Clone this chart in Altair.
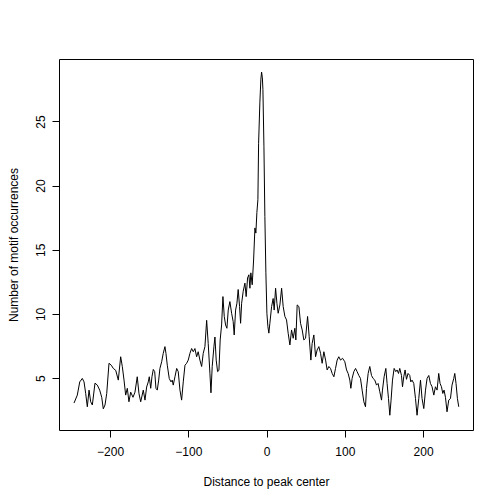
import altair as alt
import pandas as pd

# Distance to peak center (bp)
distance = [
    -246.1, -241.9, -238.8, -235.5, -233.3, -231.2, -229.1, -226.9, -224.8, -222.7,
    -219.3, -216.3, -213.3, -210.7, -208.7, -206.5, -204.3, -201.4, -198.5, -195.9,
    -192.8, -189.5, -186.5, -184.4, -182.2, -180.1, -178.0, -175.9, -173.7, -170.7,
    -168.2, -165.3, -163.1, -160.9, -157.6, -155.4, -153.3, -151.2, -149.9, -148.1,
    -146.5, -144.8, -143.0, -141.4, -139.7, -137.9, -136.3, -134.1, -132.1, -129.9,
    -128.6, -126.9, -124.4, -122.2, -120.6, -119.3, -117.1, -114.9, -112.9, -110.7,
    -108.6, -106.5, -104.3, -102.2, -100.1, -98.0, -95.8, -93.7, -91.6, -89.4,
    -87.4, -85.2, -83.0, -81.0, -78.8, -76.6, -74.6, -72.4, -71.1, -69.5,
    -67.3, -66.0, -64.4, -62.6, -60.9, -59.3, -57.5, -55.8, -54.1, -52.4,
    -50.7, -49.0, -46.9, -44.7, -42.7, -41.4, -39.6, -37.9, -36.3, -34.5,
    -33.2, -31.9, -29.9, -27.7, -26.1, -24.3, -22.6, -21.3, -20.1, -18.4,
    -16.6, -14.9, -13.7, -12.4, -11.1, -10.2, -8.6, -7.3, -6.4, -5.4,
    -4.7, -3.4, -2.2, -0.9, 0.4, 1.7, 2.9, 4.2, 6.4, 8.4,
    9.7, 11.5, 13.2, 14.8, 17.0, 19.2, 21.2, 23.4, 25.5, 27.6,
    29.8, 31.9, 34.0, 36.1, 37.4, 39.1, 41.3, 43.4, 45.5, 47.6,
    49.8, 52.4, 54.4, 56.6, 58.2, 60.4, 62.6, 64.6, 66.8, 69.0,
    71.0, 73.2, 75.4, 77.4, 79.6, 81.7, 83.8, 86.0, 88.1, 90.2,
    92.3, 94.5, 97.1, 100.0, 102.2, 104.2, 106.4, 107.7, 109.3, 111.5,
    113.7, 115.7, 117.9, 120.0, 122.1, 124.3, 126.4, 127.7, 129.8, 131.9,
    134.1, 136.1, 138.3, 140.5, 142.5, 144.7, 146.9, 148.1, 150.2, 152.4,
    154.0, 155.8, 157.5, 159.1, 160.9, 163.0, 165.1, 166.8, 168.6, 170.2,
    172.4, 173.7, 175.3, 177.0, 178.8, 180.8, 183.0, 184.3, 185.9, 188.1,
    190.3, 192.3, 194.5, 196.7, 198.7, 200.9, 203.1, 205.1, 207.3, 209.4,
    211.5, 213.7, 215.8, 217.9, 220.0, 221.7, 223.5, 225.2, 226.8, 228.6,
    230.6, 232.8, 235.0, 237.0, 239.2, 240.5, 242.1, 243.9, 245.6,
]

# Number of motif occurrences
occurrences = [
    3.05, 3.67, 4.70, 4.97, 4.70, 3.80, 2.76, 4.06, 3.15, 2.90,
    4.60, 4.45, 4.06, 3.50, 2.60, 2.90, 3.80, 6.15, 6.00, 5.75,
    5.60, 4.84, 6.66, 5.90, 4.84, 3.67, 4.20, 3.15, 3.90, 3.50,
    3.90, 5.10, 3.80, 3.15, 4.06, 3.28, 4.30, 4.70, 5.10, 4.20,
    5.10, 5.67, 5.50, 4.20, 4.06, 4.84, 5.75, 6.27, 6.92, 7.45,
    6.92, 6.00, 4.97, 4.70, 4.84, 4.45, 5.10, 5.75, 5.50, 4.06,
    3.28, 4.70, 6.00, 6.15, 6.40, 6.92, 7.30, 7.05, 7.30, 6.66,
    7.05, 6.40, 5.90, 6.92, 7.45, 9.50, 7.70, 5.36, 3.85, 5.90,
    7.45, 8.20, 6.40, 5.50, 5.60, 7.97, 9.14, 11.35, 9.80, 9.14,
    8.88, 10.30, 10.96, 10.05, 9.40, 8.36, 10.30, 10.83, 11.90, 10.57,
    9.27, 10.83, 11.76, 12.40, 11.35, 12.80, 13.05, 12.00, 13.20, 12.27,
    14.20, 16.70, 16.30, 17.90, 18.90, 23.30, 26.45, 28.30, 28.85, 28.40,
    27.50, 23.07, 17.60, 13.20, 10.05, 9.00, 8.50, 9.27, 10.57, 11.20,
    10.30, 12.00, 10.83, 10.05, 10.70, 12.00, 10.57, 9.80, 9.53, 8.49,
    7.58, 8.75, 8.10, 8.88, 7.97, 10.70, 10.57, 9.27, 8.75, 7.97,
    8.10, 9.80, 8.26, 6.40, 7.70, 8.36, 6.66, 7.19, 7.45, 6.92,
    6.15, 7.05, 6.40, 5.63, 5.90, 5.75, 5.36, 5.10, 5.75, 6.40,
    6.66, 6.40, 6.54, 6.27, 5.63, 5.36, 4.84, 4.20, 4.97, 5.50,
    5.75, 5.50, 5.20, 4.97, 4.06, 3.15, 2.76, 4.20, 5.36, 5.90,
    5.20, 4.97, 4.84, 4.45, 4.58, 3.93, 3.28, 4.06, 5.10, 5.75,
    4.58, 3.40, 2.10, 3.28, 4.84, 5.75, 5.50, 5.63, 5.36, 5.75,
    5.20, 4.32, 5.10, 5.63, 4.90, 5.36, 5.20, 4.70, 4.84, 4.58,
    3.40, 2.10, 3.40, 4.84, 3.40, 2.62, 4.06, 4.97, 5.20, 4.58,
    4.32, 3.67, 4.32, 4.06, 5.36, 4.58, 4.32, 3.80, 4.06, 3.50,
    2.37, 3.28, 3.40, 4.45, 4.97, 5.36, 4.58, 3.40, 2.76,
]

x_ticks = [-200, -100, 0, 100, 200]
y_ticks = [5, 10, 15, 20, 25]

df = pd.DataFrame({"distance": distance, "occurrences": occurrences})

FONT = "Liberation Sans"
W, H = 414, 371

chart = (
    alt.Chart(df)
    .mark_line(color="black", strokeWidth=1)
    .encode(
        x=alt.X(
            "distance:Q",
            scale=alt.Scale(domain=[-265.3, 263.8], nice=False, zero=False),
            axis=alt.Axis(
                values=x_ticks,
                title="Distance to peak center",
                domain=False,
                grid=False,
                ticks=True,
                tickSize=7,
                tickColor="black",
                tickWidth=1,
                labelFont=FONT,
                labelFontSize=12,
                labelColor="black",
                labelPadding=9,
                labelFlush=False,
                titleFont=FONT,
                titleFontSize=12,
                titleFontWeight="normal",
                titleColor="black",
                titleY=51,
                titleBaseline="middle",
            ),
        ),
        y=alt.Y(
            "occurrences:Q",
            scale=alt.Scale(domain=[0.95, 29.87], nice=False, zero=False),
            axis=alt.Axis(
                values=y_ticks,
                title="Number of motif occurrences",
                domain=False,
                grid=False,
                ticks=True,
                tickSize=7,
                tickColor="black",
                tickWidth=1,
                labelFont=FONT,
                labelFontSize=12,
                labelColor="black",
                labelAngle=270,
                labelAlign="center",
                labelBaseline="middle",
                labelPadding=12,
                labelFlush=False,
                titleFont=FONT,
                titleFontSize=12,
                titleFontWeight="normal",
                titleColor="black",
                titleAngle=270,
                titleX=-46,
                titleY=H / 2,
                titleAlign="center",
                titleBaseline="middle",
            ),
        ),
    )
    .properties(
        width=W,
        height=H,
        background="white",
        autosize=alt.AutoSizeParams(type="none"),
        padding={"left": 51, "top": 51, "right": 23, "bottom": 66},
    )
    .configure_view(stroke="black", strokeWidth=1, fill="white")
)

chart.save("out.html", embed_options={"renderer": "svg", "actions": False})
